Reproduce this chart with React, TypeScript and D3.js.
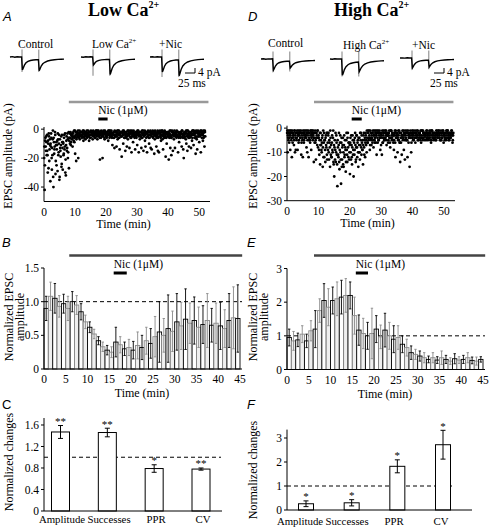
import React from "react";
import * as d3 from "d3";

const SERIF = "'Liberation Serif', 'Times New Roman', serif";
const SANS = "'Liberation Sans', Arial, sans-serif";

// ---------- Panel A / D scatter data (EPSC amplitude, pA), events every 5 s (two interleaved sets) ----------
const SAMPLE_MIN = 1 / 6;
const A_amp = [
  -20,-42,-8,-12,-5,-18, -15,-30,-10,-3,-22,-7, -36,-12,-6,-28,-18,-1, -40,-9,-14,-2,-31,-11,
  -25,-11,-29,-7,-16,-4, -33,-13,-19,-5,-24,-9, -28,-10,-17,-4,-12,-30, -32,-8,-15,-3,-20,-6,
  -27,-6,-10,-2,-9,-4, -5,-12,-3,-8,-1,-6, -17,-4,-22,-6,-2,-5, -20,-5,-3,-7,-4,-2,
  -2,-6,-4,-1,-8,-3, -5,-3,-7,-2,-4,-6, -3,-1,-5,-8,-2,-4, -6,-2,-4,-3,-7,-1,
  -4,-5,-2,-6,-3,-1, -2,-7,-4,-1,-5,-3, -21,-3,-6,-2,-4,-20, -5,-1,-3,-7,-2,-4,
  -3,-6,-2,-4,-8,-1, -4,-2,-5,-3,-1,-6, -11,-3,-6,-2,-13,-4, -2,-5,-12,-3,-7,-1,
  -6,-3,-14,-4,-2,-5, -19,-2,-4,-10,-1,-6, -3,-15,-5,-2,-12,-4, -7,-1,-4,-13,-3,-6,
  -2,-16,-5,-3,-9,-1, -4,-6,-14,-2,-5,-3, -11,-3,-1,-16,-4,-7, -2,-5,-13,-3,-6,-1,
  -15,-4,-2,-8,-12,-3, -3,-16,-5,-1,-4,-10, -6,-2,-13,-4,-14,-3, -1,-5,-3,-17,-7,-2,
  -4,-12,-6,-2,-15,-3, -16,-3,-1,-5,-8,-4, -2,-7,-14,-3,-6,-1, -5,-19,-3,-10,-2,-4,
  -3,-21,-6,-1,-13,-5, -18,-2,-4,-15,-3,-7, -1,-13,-5,-3,-6,-2, -4,-16,-2,-9,-3,-5,
  -6,-3,-12,-1,-4,-14, -20,-2,-5,-3,-7,-10, -3,-15,-1,-6,-12,-4, -2,-5,-13,-3,-8,-1,
  -4,-11,-2,-6,-3,-17, -1,-7,-14,-2,-5,-3, -9,-2,-4,-16,-1,-6, -3,-8,-1,-5,-12,-2,
];
const A_amp2 = [
  -12,-25,-6,-15,-9,-4, -18,-8,-27,-5,-14,-11, -10,-3,-20,-13,-7,-33, -6,-17,-12,-4,-22,-9,
  -14,-8,-3,-18,-10,-35, -7,-15,-11,-26,-4,-13, -9,-18,-6,-14,-3,-21, -11,-5,-13,-7,-16,-2,
  -8,-3,-6,-11,-4,-7, -3,-6,-2,-5,-9,-1, -5,-2,-7,-3,-4,-1, -3,-6,-1,-4,-2,-5,
  -4,-2,-5,-3,-1,-6, -2,-4,-3,-5,-1,-3, -5,-3,-2,-4,-6,-2, -1,-4,-3,-2,-5,-3,
  -3,-2,-6,-4,-1,-4, -5,-1,-3,-2,-4,-6, -2,-4,-1,-5,-3,-2, -4,-3,-6,-1,-2,-5,
  -2,-5,-3,-4,-1,-3, -6,-1,-4,-2,-5,-3, -3,-4,-2,-6,-1,-5, -4,-2,-5,-1,-3,-4,
  -1,-6,-3,-2,-5,-2, -5,-3,-1,-4,-2,-6, -2,-4,-6,-3,-5,-1, -4,-2,-3,-5,-1,-3,
  -6,-1,-4,-2,-3,-5, -3,-5,-2,-4,-6,-2, -1,-4,-3,-5,-2,-4, -5,-2,-6,-1,-4,-3,
  -3,-5,-1,-4,-2,-6, -2,-3,-5,-2,-6,-4, -4,-1,-3,-5,-2,-3, -6,-3,-2,-4,-1,-5,
  -3,-5,-4,-1,-6,-2, -5,-2,-3,-6,-4,-1, -1,-4,-5,-2,-3,-6, -4,-2,-6,-3,-5,-2,
  -2,-5,-3,-4,-1,-6, -6,-1,-4,-2,-5,-3, -3,-4,-2,-5,-1,-4, -5,-2,-6,-3,-4,-2,
  -2,-3,-1,-5,-6,-3, -4,-6,-3,-2,-1,-5, -1,-4,-5,-3,-2,-6, -5,-3,-2,-4,-6,-1,
  -3,-1,-4,-6,-2,-5, -6,-2,-3,-1,-5,-4, -2,-5,-1,-4,-3,-2, -4,-3,-6,-2,-1,-5,
];
const D_amp = [
  -2,-10,-4,-1,-6,-3, -9,-2,-5,-12,-1,-4, -3,-7,-1,-10,-4,-2, -5,-1,-9,-3,-6,-2,
  -1,-4,-2,-11,-3,-5, -12,-2,-6,-1,-4,-3, -3,-8,-1,-5,-2,-12, -4,-2,-6,-1,-9,-3,
  -1,-5,-3,-14,-2,-4, -6,-13,-2,-4,-1,-8, -3,-9,-5,-15,-2,-7, -10,-4,-16,-1,-6,-12,
  -5,-14,-3,-8,-11,-2, -9,-2,-13,-6,-16,-4, -7,-12,-3,-10,-1,-15, -20,-5,-9,-14,-3,-11,
  -24,-8,-12,-2,-17,-6, -10,-23,-4,-13,-7,-15, -16,-3,-11,-8,-18,-5, -9,-14,-2,-12,-6,-10,
  -19,-4,-13,-7,-15,-3, -11,-20,-6,-9,-2,-14, -8,-3,-12,-5,-16,-10, -4,-13,-7,-2,-11,-6,
  -9,-15,-3,-8,-5,-12, -2,-7,-10,-4,-6,-1, -5,-3,-9,-1,-4,-7, -2,-6,-1,-8,-3,-5,
  -4,-1,-3,-11,-2,-6, -1,-5,-2,-4,-9,-3, -3,-11,-1,-6,-2,-4, -5,-2,-4,-1,-7,-3,
  -2,-6,-3,-1,-4,-8, -4,-1,-5,-2,-3,-6, -9,-3,-1,-12,-4,-2, -2,-10,-5,-3,-1,-6,
  -14,-4,-2,-11,-3,-5, -1,-9,-3,-13,-2,-4, -5,-2,-12,-1,-6,-3, -16,-4,-2,-10,-3,-1,
  -3,-1,-5,-2,-4,-6, -2,-4,-1,-3,-5,-2, -4,-2,-3,-1,-6,-3, -1,-5,-2,-4,-2,-3,
  -3,-2,-4,-1,-3,-5, -2,-4,-1,-3,-2,-6, -5,-1,-3,-2,-4,-2, -2,-3,-5,-1,-3,-4,
  -4,-2,-1,-3,-5,-2, -1,-3,-4,-2,-1,-6, -3,-5,-2,-4,-3,-1, -2,-1,-4,-3,-5,-2,
  -4,-3,-1,-2,-6,-3,
];
const D_amp2 = [
  -1,-3,-5,-2,-4,-1, -3,-1,-4,-2,-6,-3, -2,-5,-1,-3,-9,-2, -4,-2,-3,-1,-5,-3,
  -2,-4,-1,-6,-2,-4, -1,-3,-5,-2,-3,-1, -4,-2,-10,-3,-1,-5, -2,-5,-3,-1,-4,-2,
  -3,-1,-4,-2,-6,-1, -5,-2,-3,-7,-1,-4, -4,-11,-2,-7,-5,-9, -6,-3,-8,-12,-2,-5,
  -9,-4,-7,-2,-13,-6, -3,-10,-5,-8,-1,-11, -12,-6,-9,-4,-14,-7, -8,-13,-2,-10,-6,-15,
  -5,-11,-7,-14,-9,-3, -13,-6,-16,-8,-4,-10, -7,-12,-5,-9,-14,-2, -11,-4,-8,-6,-13,-7,
  -6,-10,-3,-12,-8,-5, -9,-5,-11,-4,-7,-13, -3,-8,-6,-10,-4,-7, -10,-2,-5,-8,-3,-9,
  -5,-7,-2,-11,-4,-6, -3,-5,-1,-6,-2,-4, -1,-4,-7,-2,-5,-3, -4,-2,-5,-3,-1,-6,
  -2,-6,-3,-1,-4,-2, -5,-3,-1,-4,-2,-7, -2,-4,-6,-3,-1,-5, -4,-1,-3,-5,-2,-3,
  -3,-5,-2,-4,-6,-1, -1,-3,-4,-2,-5,-3, -5,-2,-6,-1,-3,-4, -3,-4,-1,-5,-2,-6,
  -2,-6,-3,-4,-1,-3, -4,-2,-5,-1,-3,-5, -1,-5,-2,-3,-4,-2, -3,-1,-4,-6,-2,-4,
  -5,-3,-2,-4,-1,-3, -2,-4,-3,-1,-5,-2, -3,-2,-5,-4,-1,-4, -4,-1,-3,-2,-5,-3,
  -2,-5,-1,-3,-4,-2, -3,-2,-4,-5,-1,-3, -1,-4,-2,-3,-5,-4, -4,-3,-5,-2,-1,-3,
  -2,-1,-3,-4,-2,-5, -5,-2,-4,-1,-3,-2, -3,-4,-2,-5,-1,-4, -1,-3,-5,-2,-4,-3,
  -4,-2,-1,-3,-5,-2,
];
const A_xTicks = [0, 10, 20, 30, 40, 50];
const A_yTicks = [0, -20, -40];
const D_yTicks = [0, -10, -20, -30];

// ---------- Example traces: [time ms, current pA] ----------
const STIM_MS = [30, 72];
const trA_ctrl = [[0,0],[6,0.3],[12,-0.2],[18,0.2],[24,0],[29,0.1],[31,-10.4],[33,-9],[36,-6.5],[40,-4.6],[45,-3.5],[51,-2.8],[58,-2.4],[65,-2.2],[71,-2.1],[73,-11],[75,-9.6],[78,-7.2],[82,-5.4],[87,-4.2],[94,-3.2],[102,-2.6],[111,-2.2],[120,-1.9],[128,-1.8],[135,-1.7]];
const trA_low = [[0,0],[6,-0.2],[12,0.2],[18,0],[24,0.2],[29,0],[31,-6.4],[33,-5.6],[36,-4.2],[40,-3.3],[45,-2.7],[51,-2.3],[58,-2.1],[65,-2],[71,-2],[73,-14],[75,-12],[78,-9],[82,-6.6],[87,-5],[94,-3.8],[102,-3],[111,-2.5],[120,-2.1],[128,-1.9],[135,-1.8]];
const trA_nic = [[0,0],[6,0.2],[12,-0.1],[18,0.2],[24,0],[29,0.1],[31,-12],[33,-10.5],[36,-7.6],[40,-5.4],[45,-4],[51,-3.2],[58,-2.7],[65,-2.4],[71,-2.3],[73,-15],[75,-13],[78,-9.8],[82,-7.2],[87,-5.4],[94,-4],[102,-3.1],[111,-2.5],[120,-2.1],[128,-1.9],[135,-1.8]];
const trD_ctrl = [[0,0],[6,0.2],[12,-0.2],[18,0.1],[24,0],[29,0.2],[31,-9],[33,-7.8],[36,-5.6],[40,-4],[45,-3],[51,-2.4],[58,-2],[65,-1.8],[71,-1.7],[73,-7.2],[75,-6.4],[78,-5],[82,-3.9],[87,-3],[94,-2.4],[102,-1.9],[111,-1.6],[120,-1.4],[128,-1.3],[135,-1.2]];
const trD_high = [[0,0],[6,-0.2],[12,0.2],[18,0],[24,0.1],[29,0],[31,-13],[33,-11.5],[36,-8.5],[40,-6.2],[45,-4.6],[51,-3.6],[58,-3],[65,-2.6],[71,-2.4],[73,-10.2],[75,-9],[78,-7],[82,-5.3],[87,-4],[94,-3.1],[102,-2.4],[111,-2],[120,-1.7],[128,-1.5],[135,-1.4]];
const trD_nic = [[0,0],[6,0.1],[12,-0.1],[18,0.2],[24,0],[29,0.1],[31,-8],[33,-7],[36,-5.2],[40,-3.8],[45,-2.9],[51,-2.3],[58,-2],[65,-1.8],[71,-1.7],[73,-7.2],[75,-6.3],[78,-4.9],[82,-3.8],[87,-3],[94,-2.3],[102,-1.9],[111,-1.6],[120,-1.4],[128,-1.3],[135,-1.2]];

// ---------- Panel B / E: normalized EPSC amplitude per minute ----------
const B_mean = [0.90,1.08,1.05,0.93,0.97,0.90,1.00,0.95,0.85,0.70,0.62,0.52,0.42,0.33,0.28,0.25,0.40,0.36,0.30,0.32,0.28,0.35,0.32,0.42,0.38,0.48,0.55,0.50,0.60,0.56,0.70,0.64,0.74,0.68,0.72,0.62,0.66,0.72,0.65,0.68,0.64,0.60,0.72,0.76,0.75];
const B_sem = [0.18,0.21,0.22,0.16,0.14,0.18,0.15,0.14,0.12,0.10,0.08,0.07,0.06,0.07,0.07,0.08,0.22,0.12,0.10,0.12,0.13,0.20,0.18,0.20,0.22,0.30,0.45,0.25,0.50,0.30,0.42,0.35,0.45,0.30,0.35,0.30,0.28,0.40,0.25,0.30,0.35,0.28,0.40,0.46,0.50];
const E_mean = [0.95,0.85,0.88,1.05,0.85,1.15,1.20,1.75,2.05,1.85,2.05,2.10,2.15,2.20,2.20,1.60,1.17,1.07,1.00,1.07,1.20,0.97,1.17,1.00,0.90,0.95,0.75,0.65,0.50,0.45,0.40,0.35,0.30,0.35,0.28,0.35,0.30,0.25,0.32,0.28,0.30,0.35,0.27,0.25,0.30];
const E_sem = [0.25,0.28,0.20,0.25,0.20,0.30,0.55,0.35,0.50,0.55,0.40,0.50,0.50,0.50,0.40,0.55,0.45,0.45,0.40,0.75,0.40,0.35,0.50,0.40,0.40,0.35,0.25,0.25,0.20,0.15,0.15,0.15,0.10,0.15,0.10,0.20,0.12,0.10,0.15,0.10,0.12,0.15,0.10,0.12,0.08];
const B_xTicks = [0, 5, 10, 15, 20, 25, 30, 35, 40, 45];
const B_yTicks = [0, 0.5, 1.0, 1.5];
const E_yTicks = [0, 1, 2, 3];

// ---------- Panel C / F: normalized changes ----------
const CF_labels = ["Amplitude", "Successes", "PPR", "CV"];
const C_mean = [1.47, 1.46, 0.79, 0.78];
const C_sem = [0.12, 0.08, 0.07, 0.02];
const C_sig = ["**", "**", "*", "**"];
const F_mean = [0.26, 0.30, 1.82, 2.72];
const F_sem = [0.12, 0.13, 0.27, 0.60];
const F_sig = ["*", "*", "*", "*"];
const C_yTicks = [0, 0.4, 0.8, 1.2, 1.6];
const F_yTicks = [0, 1, 2, 3];

// drug application periods (min)
const A_bath = [8, 53]; const A_nic = [17.5, 20.5];
const D_bath = [8.6, 53]; const D_nic = [20.6, 23.8];
const B_bath = [5.8, 45.5]; const B_nic = [16, 19];
const E_bath = [6.2, 45.5]; const E_nic = [15.8, 18.6];

const TICK_FS = 11.5;

function Trace({ pts, x0, y0 }: any) {
  const tx = d3.scaleLinear().domain([0, 135]).range([x0, x0 + 54]);
  const ty = d3.scaleLinear().domain([0, -10]).range([y0, y0 + 12.5]);
  const line = d3.line<any>().x((d) => tx(d[0])).y((d) => ty(d[1]));
  const minV = d3.min(pts, (d: any) => d[1]) as number;
  return (
    <g>
      {STIM_MS.map((s) => (
        <line key={s} x1={tx(s)} x2={tx(s)} y1={ty(6)} y2={ty(minV - 1)} stroke="#808080" strokeWidth={1} />
      ))}
      <path d={line(pts) || ""} fill="none" stroke="#000" strokeWidth={1.4} />
    </g>
  );
}

function ScaleBar({ xr, yb, tx, ty }: any) {
  const sx = d3.scaleLinear().domain([0, 135]).range([0, 54]);
  const sy = d3.scaleLinear().domain([0, 10]).range([0, 12.5]);
  const w = sx(25), h = sy(4);
  return (
    <g>
      <path d={`M${xr - w},${yb}H${xr}V${yb - h}`} fill="none" stroke="#000" strokeWidth={1} />
      <text x={tx} y={yb + 3} fontFamily={SERIF} fontSize={11.5}>4 pA</text>
      <text x={ty} y={yb + 14} fontFamily={SERIF} fontSize={11.5}>25 ms</text>
    </g>
  );
}

function Scatter({ x, y, sets, yTicks, titleY, titleX }: any) {
  const [x0, x1] = x.range();
  const [yb, yt] = y.range();
  return (
    <g>
      {sets.map((amps: number[], s: number) =>
        amps.map((v: number, i: number) => (
          <circle key={s + "-" + i} cx={x((i + 0.25 + 0.5 * s) * SAMPLE_MIN)} cy={y(v)} r={1.4} fill="#000" />
        ))
      )}
      <line x1={x0} x2={x0} y1={yt} y2={yb} stroke="#000" />
      <line x1={x0} x2={x1} y1={yb} y2={yb} stroke="#000" />
      {yTicks.map((t: number) => (
        <g key={t}>
          <line x1={x0 - 3} x2={x0} y1={y(t)} y2={y(t)} stroke="#000" />
          <text x={x0 - 5} y={y(t)} dy="0.35em" textAnchor="end" fontFamily={SERIF} fontSize={TICK_FS}>{String(t)}</text>
        </g>
      ))}
      {A_xTicks.map((t) => (
        <text key={t} x={x(t)} y={yb + 14} textAnchor="middle" fontFamily={SERIF} fontSize={TICK_FS}>{t}</text>
      ))}
      <text x={(x(0) + x(50)) / 2 + 2} y={yb + 26} textAnchor="middle" fontFamily={SERIF} fontSize={12}>Time (min)</text>
      <text transform={`translate(${titleX},${titleY}) rotate(-90)`} textAnchor="middle" fontFamily={SERIF} fontSize={12}>EPSC amplitude (pA)</text>
    </g>
  );
}

function TimeBars({ x, y, means, sems, yTicks, fmt, titleX, axisEnd }: any) {
  const [x0] = x.range();
  const [yb, yt] = y.range();
  const bw = x(1) - x(0);
  const cw = bw * 0.55;
  return (
    <g>
      <line x1={x0} x2={axisEnd} y1={y(1)} y2={y(1)} stroke="#000" strokeDasharray="4,3" strokeWidth={1} />
      {means.map((m: number, i: number) => {
        const odd = i % 2 === 1;
        return (
          <rect key={i} x={x(i)} y={y(m)} width={bw} height={yb - y(m)} fill={odd ? "#efefef" : "#fff"}
            stroke={odd ? "#8a8a8a" : "#000"} strokeWidth={0.9} />
        );
      })}
      {means.map((m: number, i: number) => {
        const c = i % 2 === 0 ? "#000" : "#8a8a8a";
        const cx = x(i) + bw / 2;
        const hi = y(m + sems[i]), lo = y(Math.max(0, m - sems[i]));
        return (
          <g key={"e" + i} stroke={c} strokeWidth={0.9}>
            <line x1={cx} x2={cx} y1={hi} y2={lo} />
            <line x1={cx - cw / 2} x2={cx + cw / 2} y1={hi} y2={hi} />
            <line x1={cx - cw / 2} x2={cx + cw / 2} y1={lo} y2={lo} />
          </g>
        );
      })}
      <line x1={x0} x2={x0} y1={yt} y2={yb} stroke="#000" />
      <line x1={x0} x2={axisEnd} y1={yb} y2={yb} stroke="#000" />
      {yTicks.map((t: number) => (
        <g key={t}>
          <line x1={x0 - 3} x2={x0} y1={y(t)} y2={y(t)} stroke="#000" />
          <text x={x0 - 5} y={y(t)} dy="0.35em" textAnchor="end" fontFamily={SERIF} fontSize={TICK_FS}>{fmt(t)}</text>
        </g>
      ))}
      {B_xTicks.map((t) => (
        <text key={t} x={x(t)} y={yb + 14} textAnchor="middle" fontFamily={SERIF} fontSize={TICK_FS}>{t}</text>
      ))}
      <text x={(x(0) + x(45)) / 2} y={yb + 28} textAnchor="middle" fontFamily={SERIF} fontSize={12}>Time (min)</text>
      <text transform={`translate(${titleX},317) rotate(-90)`} textAnchor="middle" fontFamily={SERIF} fontSize={12}>Normalized EPSC</text>
      <text transform={`translate(${titleX + 11},317) rotate(-90)`} textAnchor="middle" fontFamily={SERIF} fontSize={12}>amplitude</text>
    </g>
  );
}

function Summary({ x, xl, y, x0, means, sems, sig, yTicks, fmt, titleX, titleY, axisEnd, dashEnd, bw, labelY }: any) {
  const [yb, yt] = y.range();
  return (
    <g>
      <line x1={x0} x2={dashEnd} y1={y(1)} y2={y(1)} stroke="#000" strokeDasharray="4,3" />
      {CF_labels.map((l, i) => {
        const cx = x(l);
        const hi = y(means[i] + sems[i]), lo = y(means[i] - sems[i]);
        return (
          <g key={l}>
            <rect x={cx - bw / 2} y={y(means[i])} width={bw} height={yb - y(means[i])} fill="#fff" stroke="#000" strokeWidth={1} />
            <g stroke="#000" strokeWidth={1}>
              <line x1={cx} x2={cx} y1={hi} y2={lo} />
              <line x1={cx - 2.5} x2={cx + 2.5} y1={hi} y2={hi} />
              <line x1={cx - 2.5} x2={cx + 2.5} y1={lo} y2={lo} />
            </g>
            <text x={cx} y={hi - 0.5} textAnchor="middle" fontFamily={SERIF} fontSize={11}>{sig[i]}</text>
            <text x={xl(l)} y={labelY} textAnchor="middle" fontFamily={SERIF} fontSize={10.8}>{l}</text>
          </g>
        );
      })}
      <line x1={x0} x2={x0} y1={yt} y2={yb} stroke="#000" />
      <line x1={x0} x2={axisEnd} y1={yb} y2={yb} stroke="#000" />
      {yTicks.map((t: number) => (
        <g key={t}>
          <line x1={x0 - 3} x2={x0} y1={y(t)} y2={y(t)} stroke="#000" />
          <text x={x0 - 5} y={y(t)} dy="0.35em" textAnchor="end" fontFamily={SERIF} fontSize={TICK_FS}>{fmt(t)}</text>
        </g>
      ))}
      <text transform={`translate(${titleX},${titleY}) rotate(-90)`} textAnchor="middle" fontFamily={SERIF} fontSize={12}>Normalized changes</text>
    </g>
  );
}

function Drug({ x, bath, nic, yBath, yNic, bathColor }: any) {
  return (
    <g>
      <line x1={x(bath[0])} x2={x(bath[1])} y1={yBath} y2={yBath} stroke={bathColor} strokeWidth={2.5} />
      <line x1={x(nic[0])} x2={x(nic[1])} y1={yNic} y2={yNic} stroke="#000" strokeWidth={3} />
      <text x={x(nic[0])} y={yNic - 5} fontFamily={SERIF} fontSize={11.5}>Nic (1μM)</text>
    </g>
  );
}

export default function App() {
  const xA = d3.scaleLinear().domain([0, 53.5]).range([44, 210]);
  const yA = d3.scaleLinear().domain([-50, 1.5]).range([201.5, 127]);
  const xD = d3.scaleLinear().domain([0, 53.5]).range([287, 455]);
  const yD = d3.scaleLinear().domain([-30, 1]).range([200.7, 125.7]);

  const xB = d3.scaleLinear().domain([0, 45]).range([44, 240]);
  const yB = d3.scaleLinear().domain([0, 1.5]).range([369, 268]);
  const xE = d3.scaleLinear().domain([0, 45]).range([287, 483]);
  const yE = d3.scaleLinear().domain([0, 3]).range([369.5, 268.5]);

  const xC = d3.scalePoint().domain(CF_labels).range([60.5, 201]);
  const xCl = d3.scalePoint().domain(CF_labels).range([62, 203]);
  const yC = d3.scaleLinear().domain([0, 1.73]).range([511, 418]);
  const xF = d3.scalePoint().domain(CF_labels).range([306, 443]);
  const xFl = d3.scalePoint().domain(CF_labels).range([300, 441]);
  const yF = d3.scaleLinear().domain([0, 3.35]).range([510, 429.6]);

  const fmt1 = (t: number) => (t === 0 ? "0" : d3.format(".1f")(t));
  const fmtI = (t: number) => String(t);

  return (
    <svg width={489} height={529} style={{ position: "absolute", left: 0, top: 0, background: "#fff" }}>
      <rect width={489} height={529} fill="#fff" />
      {/* Titles */}
      <text x={88} y={16} fontFamily={SERIF} fontSize={18} fontWeight="bold">Low Ca<tspan fontSize={10} dy={-8}>2+</tspan></text>
      <text x={334} y={16} fontFamily={SERIF} fontSize={18} fontWeight="bold">High Ca<tspan fontSize={10} dy={-8}>2+</tspan></text>
      {/* panel letters */}
      <text x={3} y={21} fontFamily={SANS} fontSize={13} fontStyle="italic">A</text>
      <text x={248} y={21} fontFamily={SANS} fontSize={13} fontStyle="italic">D</text>
      <text x={2} y={247} fontFamily={SANS} fontSize={13} fontStyle="italic">B</text>
      <text x={247} y={247} fontFamily={SANS} fontSize={13} fontStyle="italic">E</text>
      <text x={2} y={409} fontFamily={SANS} fontSize={13}>C</text>
      <text x={247} y={409} fontFamily={SANS} fontSize={13} fontStyle="italic">F</text>

      {/* Traces */}
      <text x={18} y={48} fontFamily={SERIF} fontSize={11.5}>Control</text>
      <text x={92} y={48} fontFamily={SERIF} fontSize={11.5}>Low Ca<tspan fontSize={7} dy={-5}>2+</tspan></text>
      <text x={159} y={48} fontFamily={SERIF} fontSize={11.5}>+Nic</text>
      <Trace pts={trA_ctrl} x0={10} y0={57} />
      <Trace pts={trA_low} x0={81} y0={57} />
      <Trace pts={trA_nic} x0={150} y0={57} />
      <ScaleBar xr={195} yb={73} tx={198} ty={178} />

      <text x={268} y={47} fontFamily={SERIF} fontSize={11.5}>Control</text>
      <text x={343} y={49} fontFamily={SERIF} fontSize={11.5}>High Ca<tspan fontSize={7} dy={-5}>2+</tspan></text>
      <text x={412} y={49} fontFamily={SERIF} fontSize={11.5}>+Nic</text>
      <Trace pts={trD_ctrl} x0={261} y0={59} />
      <Trace pts={trD_high} x0={330} y0={59} />
      <Trace pts={trD_nic} x0={400} y0={58} />
      <ScaleBar xr={444} yb={73} tx={447} ty={430} />

      {/* A & D */}
      <Drug x={xA} bath={A_bath} nic={A_nic} yBath={102} yNic={119} bathColor="#999" />
      <Scatter x={xA} y={yA} sets={[A_amp, A_amp2]} yTicks={A_yTicks} titleX={12} titleY={156} />
      <Drug x={xD} bath={D_bath} nic={D_nic} yBath={102} yNic={119} bathColor="#999" />
      <Scatter x={xD} y={yD} sets={[D_amp, D_amp2]} yTicks={D_yTicks} titleX={257} titleY={156} />

      {/* B & E */}
      <Drug x={xB} bath={B_bath} nic={B_nic} yBath={255.5} yNic={273} bathColor="#444" />
      <TimeBars x={xB} y={yB} means={B_mean} sems={B_sem} yTicks={B_yTicks} fmt={fmt1} titleX={13} axisEnd={242} />
      <Drug x={xE} bath={E_bath} nic={E_nic} yBath={255.5} yNic={273} bathColor="#444" />
      <TimeBars x={xE} y={yE} means={E_mean} sems={E_sem} yTicks={E_yTicks} fmt={fmtI} titleX={257} axisEnd={485} />

      {/* C & F */}
      <Summary x={xC} xl={xCl} x0={44} y={yC} means={C_mean} sems={C_sem} sig={C_sig} yTicks={C_yTicks} fmt={fmt1}
        titleX={13} titleY={462} axisEnd={222} dashEnd={221} bw={18} labelY={523} />
      <Summary x={xF} xl={xFl} x0={287} y={yF} means={F_mean} sems={F_sem} sig={F_sig} yTicks={F_yTicks} fmt={fmtI}
        titleX={257} titleY={470} axisEnd={472} dashEnd={454} bw={15} labelY={525} />
    </svg>
  );
}
